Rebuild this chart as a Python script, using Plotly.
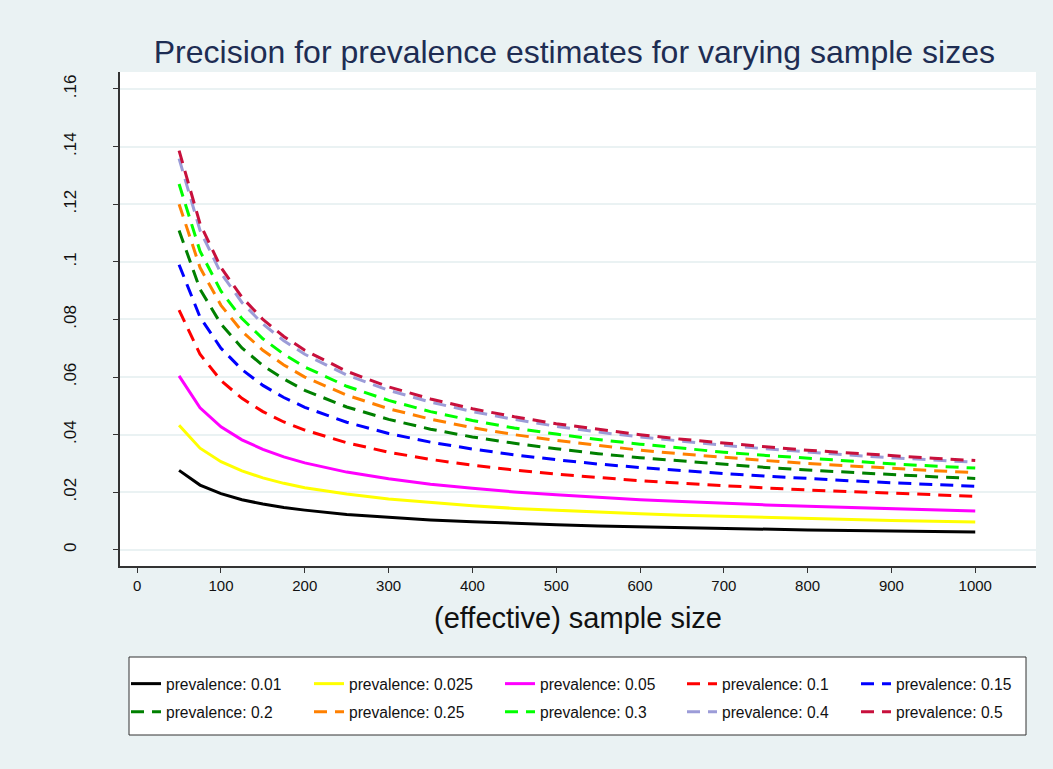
import plotly.graph_objects as go

sample_size = [50, 75, 100, 125, 150, 175, 200, 250, 300, 350, 400, 450, 500,
               550, 600, 650, 700, 750, 800, 850, 900, 950, 1000]

prev_001 = [0.0276, 0.0225, 0.0195, 0.0174, 0.0159, 0.0147, 0.0138, 0.0123, 0.0113, 0.0104, 0.0098, 0.0092, 0.0087,
            0.0083, 0.0080, 0.0076, 0.0074, 0.0071, 0.0069, 0.0067, 0.0065, 0.0063, 0.0062]
prev_0025 = [0.0433, 0.0353, 0.0306, 0.0274, 0.0250, 0.0231, 0.0216, 0.0194, 0.0177, 0.0164, 0.0153, 0.0144, 0.0137,
             0.0130, 0.0125, 0.0120, 0.0116, 0.0112, 0.0108, 0.0105, 0.0102, 0.0099, 0.0097]
prev_005 = [0.0604, 0.0493, 0.0427, 0.0382, 0.0349, 0.0323, 0.0302, 0.0270, 0.0247, 0.0228, 0.0214, 0.0201, 0.0191,
            0.0182, 0.0174, 0.0168, 0.0161, 0.0156, 0.0151, 0.0147, 0.0142, 0.0139, 0.0135]
prev_01 = [0.0832, 0.0679, 0.0588, 0.0526, 0.0480, 0.0444, 0.0416, 0.0372, 0.0339, 0.0314, 0.0294, 0.0277, 0.0263,
           0.0251, 0.0240, 0.0231, 0.0222, 0.0215, 0.0208, 0.0202, 0.0196, 0.0191, 0.0186]
prev_015 = [0.0990, 0.0808, 0.0700, 0.0626, 0.0571, 0.0529, 0.0495, 0.0443, 0.0404, 0.0374, 0.0350, 0.0330, 0.0313,
            0.0298, 0.0286, 0.0275, 0.0265, 0.0256, 0.0247, 0.0240, 0.0233, 0.0227, 0.0221]
prev_02 = [0.1109, 0.0905, 0.0784, 0.0701, 0.0640, 0.0593, 0.0554, 0.0496, 0.0453, 0.0419, 0.0392, 0.0370, 0.0351,
           0.0334, 0.0320, 0.0308, 0.0296, 0.0286, 0.0277, 0.0269, 0.0261, 0.0254, 0.0248]
prev_025 = [0.1200, 0.0980, 0.0849, 0.0759, 0.0693, 0.0642, 0.0600, 0.0537, 0.0490, 0.0454, 0.0424, 0.0400, 0.0380,
            0.0362, 0.0346, 0.0333, 0.0321, 0.0310, 0.0300, 0.0291, 0.0283, 0.0275, 0.0268]
prev_03 = [0.1270, 0.1037, 0.0898, 0.0803, 0.0733, 0.0679, 0.0635, 0.0568, 0.0519, 0.0480, 0.0449, 0.0423, 0.0402,
           0.0383, 0.0367, 0.0352, 0.0339, 0.0328, 0.0318, 0.0308, 0.0299, 0.0291, 0.0284]
prev_04 = [0.1358, 0.1109, 0.0960, 0.0859, 0.0784, 0.0726, 0.0679, 0.0607, 0.0554, 0.0513, 0.0480, 0.0453, 0.0429,
           0.0409, 0.0392, 0.0377, 0.0363, 0.0351, 0.0339, 0.0329, 0.0320, 0.0312, 0.0304]
prev_05 = [0.1386, 0.1132, 0.0980, 0.0877, 0.0800, 0.0741, 0.0693, 0.0620, 0.0566, 0.0524, 0.0490, 0.0462, 0.0438,
           0.0418, 0.0400, 0.0384, 0.0370, 0.0358, 0.0346, 0.0336, 0.0327, 0.0318, 0.0310]

series_names = ["prevalence: 0.01", "prevalence: 0.025", "prevalence: 0.05", "prevalence: 0.1",
                "prevalence: 0.15", "prevalence: 0.2", "prevalence: 0.25", "prevalence: 0.3",
                "prevalence: 0.4", "prevalence: 0.5"]
series_values = [prev_001, prev_0025, prev_005, prev_01, prev_015, prev_02, prev_025, prev_03, prev_04, prev_05]
series_colors = ["#000000", "#FFFF00", "#FF00FF", "#FF0000", "#0000FF", "#008000", "#FF8000",
                 "#00FF00", "#9C9CD8", "#C8103C"]
series_dash = ["solid", "solid", "solid", "13px,8px", "13px,8px", "13px,8px", "13px,8px",
               "13px,8px", "13px,8px", "13px,8px"]

x_ticks = [0, 100, 200, 300, 400, 500, 600, 700, 800, 900, 1000]
y_ticks = [0, 0.02, 0.04, 0.06, 0.08, 0.10, 0.12, 0.14, 0.16]
y_tick_labels = ["0", ".02", ".04", ".06", ".08", ".1", ".12", ".14", ".16"]

BG = "#EAF2F3"
FONT = "Liberation Sans, Arial, sans-serif"
W, H = 1053, 769
ML, MR, MT, MB = 120, 17, 72, 203
PW, PH = W - ML - MR, H - MT - MB

# legend layout (pixels): text start per column, row centres, box
legend_text_x = [167, 350, 541, 723, 897]
legend_row_y = [684, 712]
legend_box = (129, 657, 1026, 735)

fig = go.Figure()
for i, (name, vals, col, dash) in enumerate(zip(series_names, series_values, series_colors, series_dash)):
    lg = "legend" if i == 0 else f"legend{i + 1}"
    fig.add_trace(go.Scatter(x=sample_size, y=vals, mode="lines", name=name, legend=lg,
                             line=dict(color=col, width=3, dash=dash)))

layout_legends = {}
for i in range(10):
    key = "legend" if i == 0 else f"legend{i + 1}"
    r, c = divmod(i, 5)
    layout_legends[key] = dict(
        orientation="h", xref="container", yref="container",
        x=(legend_text_x[c] - 41) / W, xanchor="left",
        y=1 - legend_row_y[r] / H, yanchor="middle",
        bgcolor="rgba(0,0,0,0)", borderwidth=0,
        font=dict(size=15.6, family=FONT, color="#111111"),
        itemwidth=30, traceorder="normal",
    )

fig.update_layout(
    width=W, height=H,
    paper_bgcolor=BG, plot_bgcolor="white",
    margin=dict(l=ML, r=MR, t=MT, b=MB),
    font=dict(family=FONT, color="#111111"),
    title=dict(text="Precision for prevalence estimates for varying sample sizes",
               font=dict(size=32, color="#1E2D53", family=FONT),
               x=0.496, xref="paper", xanchor="center",
               y=1, yref="paper", yanchor="bottom", pad=dict(b=9)),
    showlegend=True,
    shapes=[dict(type="rect", xref="paper", yref="paper", layer="below",
                 x0=(legend_box[0] - ML) / PW, x1=(legend_box[2] - ML) / PW,
                 y0=(H - MB - legend_box[1]) / PH, y1=(H - MB - legend_box[3]) / PH,
                 fillcolor="white", line=dict(color="#333333", width=1))],
    **layout_legends,
)

fig.update_xaxes(range=[-20.5, 1072.5], tickvals=x_ticks, ticks="outside", ticklen=5,
                 tickcolor="#333333", showline=True, linecolor="#333333", linewidth=1.5,
                 showgrid=False, zeroline=False, tickfont=dict(size=15),
                 title=dict(text="(effective) sample size", font=dict(size=29), standoff=15))
fig.update_yaxes(range=[-0.0056, 0.1659], tickvals=y_ticks, ticktext=y_tick_labels,
                 ticks="outside", ticklen=5, tickcolor="#333333", tickangle=-90,
                 showline=True, linecolor="#333333", linewidth=1.5,
                 showgrid=True, gridcolor=BG, gridwidth=1.5,
                 zeroline=True, zerolinecolor=BG, zerolinewidth=1.5,
                 tickfont=dict(size=17), ticklabelstandoff=30)

fig.write_html("out.html", config={"displayModeBar": False},
               post_script="document.body.style.margin='0px';")
